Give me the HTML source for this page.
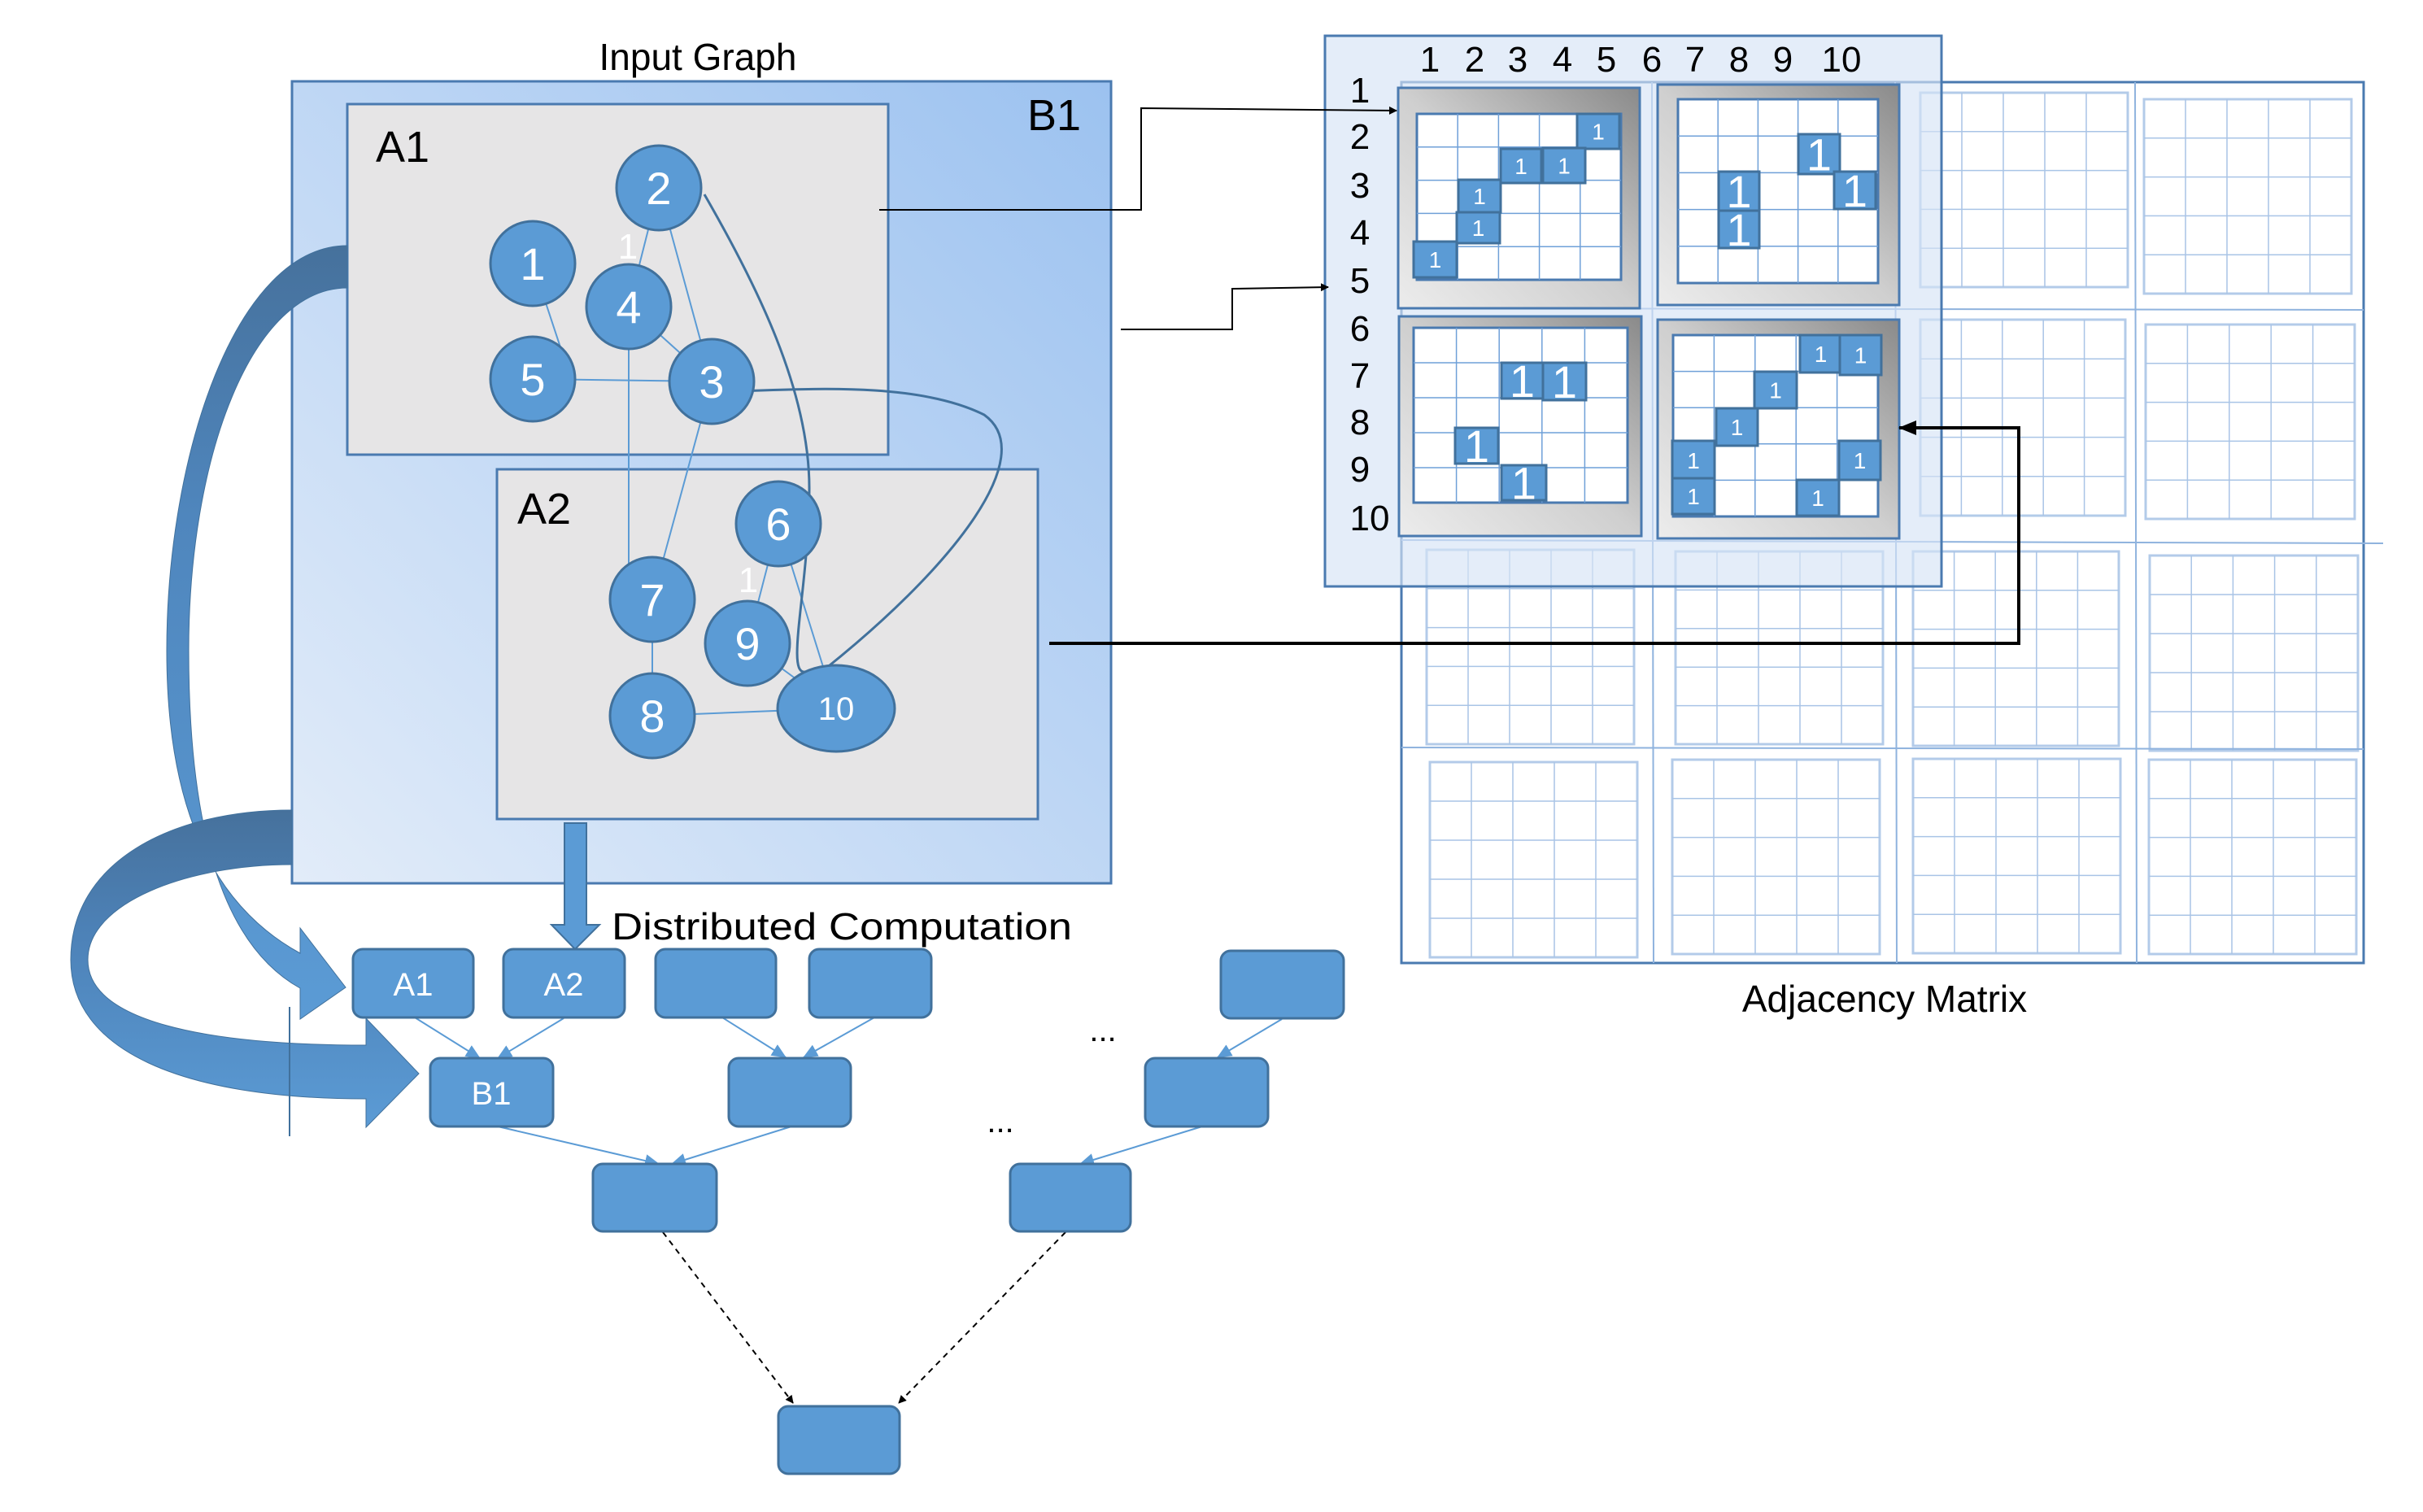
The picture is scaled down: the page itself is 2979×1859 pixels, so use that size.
<!DOCTYPE html>
<html><head><meta charset="utf-8"><style>
html,body{margin:0;padding:0;background:#fff;}
svg{display:block;}
text{font-family:"Liberation Sans",sans-serif;}
</style></head><body>
<svg id="s" width="2979" height="1859" viewBox="0 0 2979 1859" xmlns="http://www.w3.org/2000/svg">
<defs>
<linearGradient id="b1g" x1="0" y1="1" x2="1" y2="0">
<stop offset="0" stop-color="#e2ecf9"/><stop offset="1" stop-color="#9cc2f0"/></linearGradient>
<linearGradient id="gray" x1="0" y1="1" x2="1" y2="0">
<stop offset="0" stop-color="#ececec"/><stop offset="0.5" stop-color="#cfcfcf"/><stop offset="1" stop-color="#8a8a8a"/></linearGradient>
<linearGradient id="band1" x1="0" y1="0" x2="0" y2="1">
<stop offset="0" stop-color="#46719c"/><stop offset="0.35" stop-color="#4f86bd"/><stop offset="1" stop-color="#5b9bd5"/></linearGradient>
<linearGradient id="band2" x1="0" y1="0" x2="0" y2="1">
<stop offset="0" stop-color="#46719c"/><stop offset="0.4" stop-color="#4d82b8"/><stop offset="1" stop-color="#5b9bd5"/></linearGradient>
<marker id="ah" markerWidth="10" markerHeight="10" refX="9" refY="5" orient="auto" markerUnits="userSpaceOnUse"><path d="M0,0 L10,5 L0,10 Z" fill="#000"/></marker>
<marker id="ahb" markerWidth="18" markerHeight="16" refX="17" refY="8" orient="auto" markerUnits="userSpaceOnUse"><path d="M0,0 L18,8 L0,16 Z" fill="#5b9bd5"/></marker>
<marker id="ahk" markerWidth="22" markerHeight="18" refX="21" refY="9" orient="auto" markerUnits="userSpaceOnUse"><path d="M0,0 L22,9 L0,18 Z" fill="#000"/></marker>
</defs>

<g id="faded"></g>
<rect x="1723" y="101" width="1183" height="1083" fill="none" stroke="#4a7ab0" stroke-width="3"/>
<g stroke="#8fb3de" stroke-width="2">
<line x1="2031" y1="101" x2="2033" y2="1184"/><line x1="2330" y1="101" x2="2332" y2="1184"/><line x1="2625" y1="101" x2="2627" y2="1184"/>
<line x1="1723" y1="379" x2="2906" y2="381"/><line x1="1723" y1="664" x2="2930" y2="668"/><line x1="1723" y1="919" x2="2906" y2="921"/>
</g>
<rect x="1629" y="44" width="758" height="677" fill="rgba(214,228,246,0.65)" stroke="#4a7ab0" stroke-width="3"/>
<g font-size="44" fill="#000">
<text x="1758" y="88" text-anchor="middle">1</text><text x="1813" y="88" text-anchor="middle">2</text>
<text x="1866" y="88" text-anchor="middle">3</text><text x="1921" y="88" text-anchor="middle">4</text>
<text x="1975" y="88" text-anchor="middle">5</text><text x="2031" y="88" text-anchor="middle">6</text>
<text x="2084" y="88" text-anchor="middle">7</text><text x="2138" y="88" text-anchor="middle">8</text>
<text x="2192" y="88" text-anchor="middle">9</text><text x="2264" y="88" text-anchor="middle">10</text>
<text x="1672" y="126" text-anchor="middle">1</text><text x="1672" y="183" text-anchor="middle">2</text>
<text x="1672" y="243" text-anchor="middle">3</text><text x="1672" y="301" text-anchor="middle">4</text>
<text x="1672" y="360" text-anchor="middle">5</text><text x="1672" y="419" text-anchor="middle">6</text>
<text x="1672" y="477" text-anchor="middle">7</text><text x="1672" y="534" text-anchor="middle">8</text>
<text x="1672" y="592" text-anchor="middle">9</text><text x="1684" y="652" text-anchor="middle">10</text>
</g>
<g id="blocks"></g>
<g id="ones"></g>
<text x="2317" y="1244" font-size="46" text-anchor="middle">Adjacency Matrix</text>

<text x="858" y="86" font-size="46" text-anchor="middle">Input Graph</text>
<rect x="359" y="100" width="1007" height="986" fill="url(#b1g)" stroke="#4a7ab0" stroke-width="3"/>
<text x="1263" y="160" font-size="54">B1</text>
<rect x="427" y="128" width="665" height="431" fill="#e6e5e6" stroke="#4a7ab0" stroke-width="3"/>
<text x="462" y="199" font-size="54">A1</text>
<rect x="611" y="577" width="665" height="430" fill="#e6e5e6" stroke="#4a7ab0" stroke-width="3"/>
<text x="636" y="644" font-size="54">A2</text>

<g stroke="#5b9bd5" stroke-width="2" fill="none">
<line x1="810" y1="231" x2="773" y2="377"/><line x1="810" y1="231" x2="875" y2="469"/>
<line x1="655" y1="324" x2="690" y2="430"/><line x1="773" y1="377" x2="875" y2="469"/>
<line x1="655" y1="466" x2="875" y2="469"/><line x1="773" y1="377" x2="773" y2="737"/>
<line x1="875" y1="469" x2="802" y2="737"/><line x1="957" y1="644" x2="919" y2="791"/>
<line x1="957" y1="644" x2="1028" y2="871"/><line x1="919" y1="791" x2="1028" y2="871"/>
<line x1="802" y1="737" x2="802" y2="880"/><line x1="802" y1="880" x2="1028" y2="871"/>
</g>
<g stroke="#41719c" stroke-width="3" fill="none">
<path d="M866,239 C930,350 995,480 995,600 C995,720 965,830 990,826"/>
<path d="M907,481 C1000,478 1130,470 1210,510 C1280,560 1170,700 1005,830"/>
</g>
<g fill="#5b9bd5" stroke="#41719c" stroke-width="3">
<circle cx="810" cy="231" r="52"/><circle cx="655" cy="324" r="52"/><circle cx="773" cy="377" r="52"/>
<circle cx="655" cy="466" r="52"/><circle cx="875" cy="469" r="52"/><circle cx="957" cy="644" r="52"/>
<circle cx="802" cy="737" r="52"/><circle cx="919" cy="791" r="52"/><circle cx="802" cy="880" r="52"/>
<ellipse cx="1028" cy="871" rx="72" ry="53"/>
</g>
<g fill="#fff" font-size="56" text-anchor="middle">
<text x="810" y="251">2</text><text x="655" y="344">1</text><text x="773" y="397">4</text>
<text x="655" y="486">5</text><text x="875" y="489">3</text><text x="957" y="664">6</text>
<text x="802" y="757">7</text><text x="919" y="811">9</text><text x="802" y="900">8</text>
<text x="1028" y="885" font-size="40">10</text>
<text x="772" y="318" font-size="44">1</text><text x="920" y="728" font-size="44">1</text>
</g>

<g fill="none">
<polyline points="1081,258 1403,258 1403,133 1717,136" stroke="#000" stroke-width="2" marker-end="url(#ah)"/>
<polyline points="1378,405 1515,405 1515,355 1633,353" stroke="#000" stroke-width="2" marker-end="url(#ah)"/>
<polyline points="1290,791 2482,791 2482,526 2335,526" stroke="#000" stroke-width="4" marker-end="url(#ahk)"/>
</g>

<path d="M427,302 C290,302 205,560 205,800 C205,1000 265,1115 369,1172 L369,1141 L425,1214 L369,1253 L369,1215 C270,1160 232,1010 232,800 C232,560 310,354 427,354 Z" fill="url(#band1)" stroke="#41719c" stroke-width="1"/>
<path d="M359,996 C210,996 87,1060 87,1180 C87,1290 220,1351 450,1351 L450,1386 L515,1320 L450,1252 L450,1285 C250,1285 108,1255 108,1180 C108,1110 230,1063 359,1063 Z" fill="url(#band2)" stroke="#41719c" stroke-width="1"/>
<line x1="356" y1="1238" x2="356" y2="1397" stroke="#41719c" stroke-width="2"/>

<path d="M694,1012 L721,1012 L721,1137 L737,1137 L707,1167 L678,1137 L694,1137 Z" fill="#5b9bd5" stroke="#41719c" stroke-width="2"/>
<text x="752" y="1155" font-size="46" textLength="566" lengthAdjust="spacingAndGlyphs">Distributed Computation</text>

<g stroke="#5b9bd5" stroke-width="2" marker-end="url(#ahb)">
<line x1="510" y1="1251" x2="590" y2="1301"/><line x1="693" y1="1252" x2="612" y2="1301"/>
<line x1="888" y1="1251" x2="966" y2="1300"/><line x1="1075" y1="1251" x2="988" y2="1300"/>
<line x1="1576" y1="1253" x2="1497" y2="1300"/>
<line x1="612" y1="1385" x2="810" y2="1431"/><line x1="973" y1="1385" x2="826" y2="1431"/>
<line x1="1478" y1="1385" x2="1328" y2="1431"/>
</g>
<g stroke="#000" stroke-width="2" stroke-dasharray="7,6" marker-end="url(#ah)" fill="none">
<line x1="815" y1="1515" x2="975" y2="1725"/><line x1="1310" y1="1515" x2="1105" y2="1725"/>
</g>
<g fill="#5b9bd5" stroke="#41719c" stroke-width="3">
<rect x="434" y="1167" width="148" height="84" rx="12"/><rect x="619" y="1167" width="149" height="84" rx="12"/>
<rect x="806" y="1167" width="148" height="84" rx="12"/><rect x="995" y="1167" width="150" height="84" rx="12"/>
<rect x="1501" y="1169" width="151" height="83" rx="12"/>
<rect x="529" y="1301" width="151" height="84" rx="12"/><rect x="896" y="1301" width="150" height="84" rx="12"/>
<rect x="1408" y="1301" width="151" height="84" rx="12"/>
<rect x="729" y="1431" width="152" height="83" rx="12"/><rect x="1242" y="1431" width="148" height="83" rx="12"/>
<rect x="957" y="1729" width="149" height="83" rx="12"/>
</g>
<g fill="#fff" font-size="40" text-anchor="middle">
<text x="508" y="1224">A1</text><text x="693" y="1224">A2</text><text x="604" y="1358">B1</text>
</g>
<text x="1356" y="1280" font-size="40" text-anchor="middle">...</text>
<text x="1230" y="1392" font-size="40" text-anchor="middle">...</text>
</svg>
<script>
var NS="http://www.w3.org/2000/svg";
function el(p,t,a){var e=document.createElementNS(NS,t);for(var k in a)e.setAttribute(k,a[k]);p.appendChild(e);return e;}
function grid(p,x,y,w,h,bc,bw,lc,lw,fill){
 el(p,"rect",{x:x,y:y,width:w,height:h,fill:fill,stroke:bc,"stroke-width":bw});
 for(var i=1;i<5;i++){
  el(p,"line",{x1:x+w*i/5,y1:y,x2:x+w*i/5,y2:y+h,stroke:lc,"stroke-width":lw});
  el(p,"line",{x1:x,y1:y+h*i/5,x2:x+w,y2:y+h*i/5,stroke:lc,"stroke-width":lw});
 }
}
var f=document.getElementById("faded");
[[2361,114,255,239],[2636,122,255,239],[2361,393,252,241],[2638,399,257,239],
 [1754,676,255,239],[2060,678,255,237],[2352,678,253,239],[2643,683,256,240],
 [1758,937,255,240],[2056,934,255,239],[2352,933,255,239],[2642,934,255,239]].forEach(function(g){
 grid(f,g[0],g[1],g[2],g[3],"#b3cbe9",3,"#a9c4e6",1.5,"none");});
var b=document.getElementById("blocks");
[[1719,108,297,271,1742,140,251,204],[2038,104,297,271,2063,122,246,226],
 [1720,389,298,270,1738,403,263,215],[2038,393,297,269,2057,412,252,223]].forEach(function(g){
 el(b,"rect",{x:g[0],y:g[1],width:g[2],height:g[3],fill:"url(#gray)",stroke:"#4a7ab0","stroke-width":3});
 grid(b,g[4],g[5],g[6],g[7],"#4a7ab0",3,"#6fa0d8",1.5,"#fff");});
var o=document.getElementById("ones");
function one(x1,y1,x2,y2,fs){
 el(o,"rect",{x:x1,y:y1,width:x2-x1,height:y2-y1,fill:"#5b9bd5",stroke:"#41719c","stroke-width":3});
 var t=el(o,"text",{x:(x1+x2)/2,y:(y1+y2)/2+fs*0.36,"font-size":fs,fill:"#fff","text-anchor":"middle"});t.textContent="1";}
[[1939,140,1991,183],[1845,183,1895,225],[1897,182,1949,225],[1793,221,1845,261],[1791,261,1844,299],[1738,297,1791,341],
 [2213,412,2264,458],[2262,412,2313,461],[2157,457,2209,502],[2110,502,2161,548],[2056,542,2108,590],[2056,588,2108,632],[2261,542,2312,590],[2209,590,2261,634]
].forEach(function(a){one(a[0],a[1],a[2],a[3],28);});
[[2211,165,2262,214],[2113,211,2163,259],[2113,259,2163,305],[2255,211,2306,257],
 [1846,446,1897,490],[1897,446,1950,492],[1789,526,1842,570],[1846,572,1901,615]
].forEach(function(a){one(a[0],a[1],a[2],a[3],56);});
</script>
</body></html>
